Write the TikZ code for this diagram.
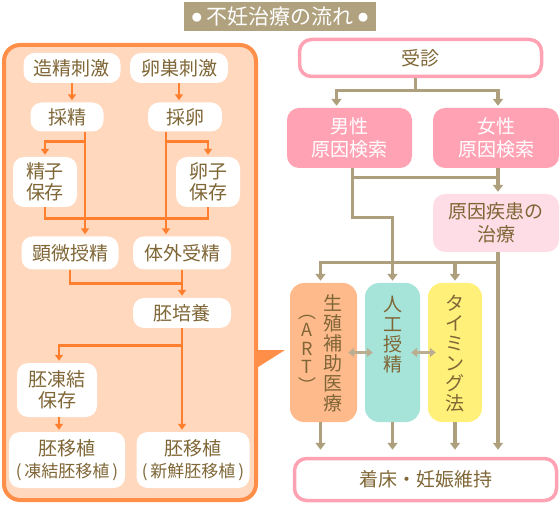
\documentclass[tikz,border=0pt]{standalone}
\usepackage{fontspec}
\setmainfont{Noto Sans CJK JP}
\usetikzlibrary{arrows.meta,calc,positioning}
\definecolor{ivfbrown}{HTML}{7F6636}
\definecolor{ivforange}{HTML}{FF8F48}
\definecolor{ivfline}{HTML}{FF7F2E}
\definecolor{ivfpeach}{HTML}{FFD8BD}
\definecolor{ivftan}{HTML}{AE9F7D}
\definecolor{ivfpink}{HTML}{FFA3B4}
\definecolor{ivfpale}{HTML}{FFDDE6}
\definecolor{ivfart}{HTML}{FFBA8C}
\definecolor{ivfteal}{HTML}{A6E3D8}
\definecolor{ivfyellow}{HTML}{FFF07A}
\definecolor{ivfbanner}{HTML}{B0A17F}
\tikzset{
    every node/.style={font=\fontsize{19}{21}\selectfont,text=ivfbrown,inner sep=0pt},
    banner/.style={fill=ivfbanner,text=white,minimum width=192pt,minimum height=29pt,font=\fontsize{21}{22}\selectfont},
    panel/.style={draw=ivforange,fill=ivfpeach,line width=4pt,rounded corners=16pt},
    wbox/.style={rounded corners=11pt,fill=white,align=center},
    frame/.style={draw=ivfpink,fill=white,line width=3.5pt,rounded corners=12pt,align=center},
    pinkbox/.style={fill=ivfpink,text=white,rounded corners=12pt,align=center},
    palebox/.style={fill=ivfpale,rounded corners=12pt,align=center},
    column/.style={rounded corners=14pt,minimum width=#1,minimum height=139pt},
    vtext/.style={align=center,font=\fontsize{19}{20}\selectfont},
    oline/.style={draw=ivfline,line width=2.7pt},
    oarr/.style={oline,-{Triangle[width=8pt,length=6pt]},shorten >=2pt},
    tline/.style={draw=ivftan,line width=3.3pt},
    tarr/.style={tline,-{Triangle[width=10pt,length=7pt]},shorten >=2pt},
    darr/.style={draw=ivftan!85!white,line width=3pt,{Triangle[width=9pt,length=6pt]}-{Triangle[width=9pt,length=6pt]},shorten <=-9pt,shorten >=-8pt}
}
\newcommand{\subline}[1]{{\fontsize{17}{19}\selectfont(\,#1\,)}}
\newcommand{\tdot}{\raisebox{3pt}{\fontsize{10}{10}\selectfont ●}}
\begin{document}
\begin{tikzpicture}[x=1pt,y=-1pt]
\useasboundingbox (0,0) rectangle (560,505);
% title
\node[banner] (title) at (280,16.5) {\tdot\ 不妊治療の流れ \tdot};

% left panel with pointer
\draw[panel] (4,45) rectangle (256,500);
\fill[ivforange] (255,350) -- (285,350) -- (255,369) -- cycle;

\node[wbox,minimum width=97pt,minimum height=30pt] (zousei) at (72,68) {造精刺激};
\node[wbox,minimum width=98pt,minimum height=30pt] (ransou) at (179,68) {卵巣刺激};
\node[wbox,minimum width=73pt,minimum height=29pt] (saisei) at (67,117) {採精};
\node[wbox,minimum width=74pt,minimum height=29pt] (sairan) at (185,117) {採卵};
\node[wbox,minimum width=64pt,minimum height=50pt] (seishi) at (45,182) {精子\\保存};
\node[wbox,minimum width=64pt,minimum height=50pt] (ranshi) at (208,182) {卵子\\保存};
\node[wbox,minimum width=97pt,minimum height=33pt] (kenbi) at (70,253) {顕微授精};
\node[wbox,minimum width=98pt,minimum height=33pt] (taigai) at (182,253) {体外受精};
\node[wbox,minimum width=98pt,minimum height=30pt] (haibai) at (182,313) {胚培養};
\node[wbox,minimum width=80pt,minimum height=54pt] (touketsu) at (57,390) {胚凍結\\保存};
\node[wbox,minimum width=116pt,minimum height=56pt] (toumove) at (67,460) {胚移植\\[1pt]\subline{凍結胚移植}};
\node[wbox,minimum width=113pt,minimum height=56pt] (shinsen) at (193,460) {胚移植\\[1pt]\subline{新鮮胚移植}};

% left connectors
\draw[oarr] (zousei.south) -- (zousei.south |- saisei.north);
\draw[oarr] (ransou.south) -- (ransou.south |- sairan.north);
\coordinate (sp) at ($(saisei.south)+(18,0)$);
\draw[oarr] (sp) -- (sp |- kenbi.north);
\draw[oarr] ($(sp)+(0,10)$) -| (seishi.north);
\coordinate (rp) at ($(sairan.south)+(-19,0)$);
\draw[oarr] (rp) -- (rp |- taigai.north);
\draw[oarr] ($(rp)+(0,10)$) -| (ranshi.north);
\draw[oline] (seishi.south) -- ++(0,11) -| (ranshi.south);
\draw[oline] (kenbi.south) |- ($(taigai.south)!0.5!(haibai.north)$);
\draw[oarr] (taigai.south) -- (haibai.north);
\draw[oarr] (haibai.south) -- (haibai.south |- shinsen.north);
\draw[oarr] ($(haibai.south)+(0,17)$) -| ($(touketsu.north)+(2,0)$);
\draw[oarr] ($(touketsu.south)+(2,0)$) -- ($(touketsu.south |- toumove.north)+(2,0)$);

% right side
\node[frame,minimum width=242pt,minimum height=37pt] (jushin) at (420.5,58) {受診};
\node[pinkbox,minimum width=125pt,minimum height=60pt] (dansei) at (349.5,138) {男性\\[2pt]原因検索};
\node[pinkbox,minimum width=126pt,minimum height=60pt] (josei) at (496,138) {女性\\[2pt]原因検索};
\node[palebox,minimum width=126pt,minimum height=58pt] (gen) at (496,223) {原因疾患の\\[2pt]治療};
\node[column=67pt,fill=ivfart] (art) at (323.5,352.5) {};
\node[column=55pt,fill=ivfteal] (jinkou) at (392.5,352.5) {};
\node[column=54pt,fill=ivfyellow] (timing) at (455,352.5) {};
\node[vtext] (artname) at ($(art.center)+(9.5,0.5)$) {生\\殖\\補\\助\\医\\療};
\node[vtext,font=\fontsize{18}{18.5}\selectfont] (artabbr) at ($(art.center)+(-16.5,1)$) {︵\\A\\R\\T\\︶};
\node[vtext] (jinkouname) at ($(jinkou.center)+(0,-18)$) {人\\工\\授\\精};
\node[vtext] (timingname) at ($(timing.center)+(0,1)$) {タ\\イ\\ミ\\ン\\グ\\法};
\node[frame,minimum width=262pt,minimum height=42pt] (chaku) at (425.5,479.5) {着床・妊娠維持};

% right connectors
\coordinate (jp) at ($(jushin.south)+(-5,12)$);
\draw[tline] ($(jushin.south)+(-5,0)$) -- (jp);
\draw[tarr] (jp) -| ($(dansei.north)+(-13,0)$);
\draw[tarr] (jp) -| ($(josei.north)+(2,0)$);
\coordinate (dp) at ($(dansei.south)+(3,0)$);
\draw[tarr] (dp) -- ++(0,49) -| (jinkou.north);
\draw[tline] ($(dp)+(0,9)$) -- ($(josei.south)+(2,9)$);
\draw[tarr] ($(josei.south)+(2,0)$) -- ($(gen.north)+(2,0)$);
\coordinate (gp) at ($(gen.south)+(2,0)$);
\draw[tarr,shorten >=7pt] (gp) -- (gp |- chaku.north);
\draw[tarr] ($(gp)+(0,10)$) -| ($(art.north)+(-3,0)$);
\draw[tarr] ($(gp)+(0,10)$) -| (timing.north);
\draw[tarr,shorten >=7pt] ($(art.south)+(-3,0)$) -- ($(art.south |- chaku.north)+(-3,0)$);
\draw[tarr,shorten >=7pt] (jinkou.south) -- (jinkou.south |- chaku.north);
\draw[tarr,shorten >=7pt] (timing.south) -- (timing.south |- chaku.north);
\draw[darr] (art.east) -- (jinkou.west);
\draw[darr] (jinkou.east) -- (timing.west);
\end{tikzpicture}
\end{document}
